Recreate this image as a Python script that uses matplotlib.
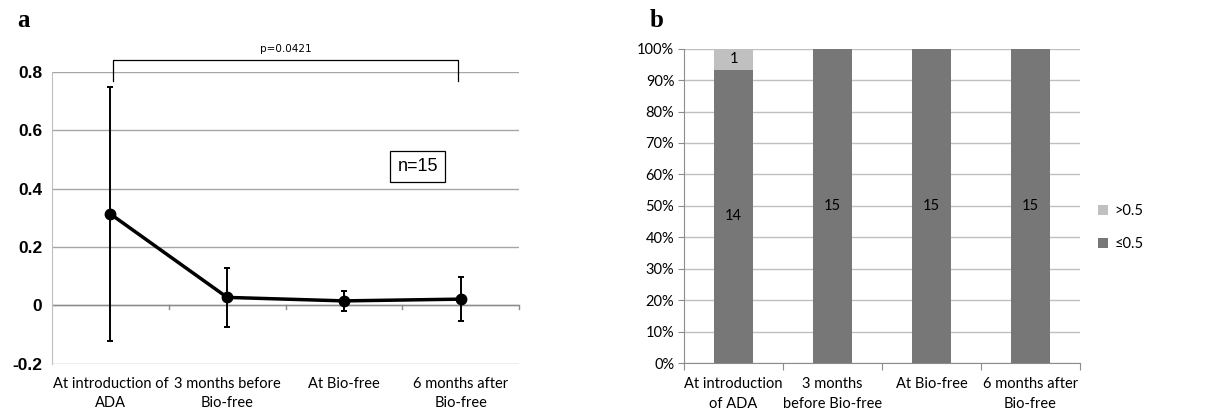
import numpy as np
import matplotlib.pyplot as plt

# panel a data
categories_a = ["At introduction of\nADA", "3 months before\nBio-free", "At Bio-free", "6 months after\nBio-free"]
means = [0.313, 0.027, 0.015, 0.021]
errs = [0.436, 0.100, 0.034, 0.075]
y_ticks_a = [-0.2, 0, 0.2, 0.4, 0.6, 0.8]
y_ticklabels_a = ["-0.2", "0", "0.2", "0.4", "0.6", "0.8"]

# panel b data
categories_b = ["At introduction\nof ADA", "3 months\nbefore Bio-free", "At Bio-free", "6 months after\nBio-free"]
count_low = [14, 15, 15, 15]
count_high = [1, 0, 0, 0]
series_names = ["\u22640.5", ">0.5"]

cat_font = "Lato"
grid_col = "#a6a6a6"

fig = plt.figure(figsize=(12.23, 4.16), dpi=100)

# ---------------- panel a
ax1 = fig.add_axes([0.0425, 0.126, 0.382, 0.701])
x = np.arange(len(means))
ax1.errorbar(x, means, yerr=errs, color="black", lw=2.5, marker="o", ms=7.5,
             ecolor="black", elinewidth=1.4, capsize=2.5, capthick=1.4, zorder=3)
ax1.set_xlim(-0.5, 3.5)
ax1.set_ylim(-0.2, 0.8)
ax1.set_yticks(y_ticks_a)
ax1.set_yticklabels(y_ticklabels_a, fontsize=12.5, fontweight="bold", family="Liberation Sans")
ax1.yaxis.grid(True, color=grid_col, lw=1)
ax1.set_axisbelow(True)
for s in ["top", "right", "bottom"]:
    ax1.spines[s].set_visible(False)
ax1.spines["left"].set_color("#bfbfbf")
ax1.tick_params(axis="y", length=0, pad=7)
ax1.set_xticks([])
# category axis at zero with boundary ticks
ax1.axhline(0, color="#8c8c8c", lw=1)
for b in [0.5, 1.5, 2.5, 3.5]:
    ax1.plot([b, b], [0, -0.012], color="#8c8c8c", lw=1, clip_on=False)
for i, lab in enumerate(categories_a):
    ax1.text(i, -0.245, lab, ha="center", va="top", fontsize=10.5, family=cat_font,
             linespacing=1.5, clip_on=False)
# bracket
bx0, bx1, btop, bbot = 0.02, 2.98, 0.84, 0.77
ax1.plot([bx0, bx0, bx1, bx1], [bbot, btop, btop, bbot], color="black", lw=0.9, clip_on=False)
ax1.text((bx0 + bx1) / 2, btop + 0.02, "p=0.0421", ha="center", va="bottom", fontsize=7.5,
         family="DejaVu Sans")
ax1.text(2.63, 0.475, "n=15", ha="center", va="center", fontsize=13, family="Liberation Sans",
         bbox=dict(boxstyle="square,pad=0.4", fc="white", ec="black", lw=0.9))
fig.text(0.014, 0.935, "a", fontsize=18, fontweight="bold", family="Liberation Serif")

# ---------------- panel b
ax2 = fig.add_axes([0.5593, 0.1274, 0.3238, 0.7556])
low = np.array(count_low) / (np.array(count_low) + np.array(count_high)) * 100
high = np.array(count_high) / (np.array(count_low) + np.array(count_high)) * 100
xb = np.arange(len(categories_b))
ax2.bar(xb, low, width=0.4, color="#777777", label=series_names[0], zorder=3)
ax2.bar(xb, high, width=0.4, bottom=low, color="#c0c0c0", label=series_names[1], zorder=3)
for i in range(len(xb)):
    ax2.text(xb[i], low[i] / 2, str(count_low[i]), ha="center", va="center", fontsize=10.5,
             family=cat_font, zorder=4)
    if count_high[i] > 0:
        ax2.text(xb[i], low[i] + high[i] / 2, str(count_high[i]), ha="center", va="center",
                 fontsize=10.5, family=cat_font, zorder=4)
ax2.set_xlim(-0.5, 3.5)
ax2.set_ylim(0, 100)
ax2.set_yticks(range(0, 101, 10))
ax2.set_yticklabels([f"{v}%" for v in range(0, 101, 10)], fontsize=10.5, family=cat_font)
ax2.yaxis.grid(True, color="#c0c0c0", lw=1)
ax2.set_axisbelow(True)
for s in ["top", "right"]:
    ax2.spines[s].set_visible(False)
ax2.spines["left"].set_color("#8c8c8c")
ax2.spines["bottom"].set_color("#8c8c8c")
ax2.tick_params(axis="y", length=4, color="#8c8c8c", pad=3)
ax2.set_xticks([-0.5, 0.5, 1.5, 2.5, 3.5])
ax2.set_xticklabels([])
ax2.tick_params(axis="x", length=5, color="#8c8c8c")
for i, lab in enumerate(categories_b):
    ax2.text(i, -4.5, lab, ha="center", va="top", fontsize=10.5, family=cat_font,
             linespacing=1.5, clip_on=False)
handles, labels = ax2.get_legend_handles_labels()
ax2.legend(handles[::-1], labels[::-1], loc="center left", bbox_to_anchor=(1.02, 0.43),
           frameon=False, prop={"family": ["Lato", "DejaVu Sans"], "size": 10.5},
           handlelength=0.7, handleheight=0.7, handletextpad=0.4, labelspacing=1.3,
           borderpad=0.2)
fig.text(0.531, 0.935, "b", fontsize=18, fontweight="bold", family="Liberation Serif")

fig.savefig("out.png", dpi=100)
